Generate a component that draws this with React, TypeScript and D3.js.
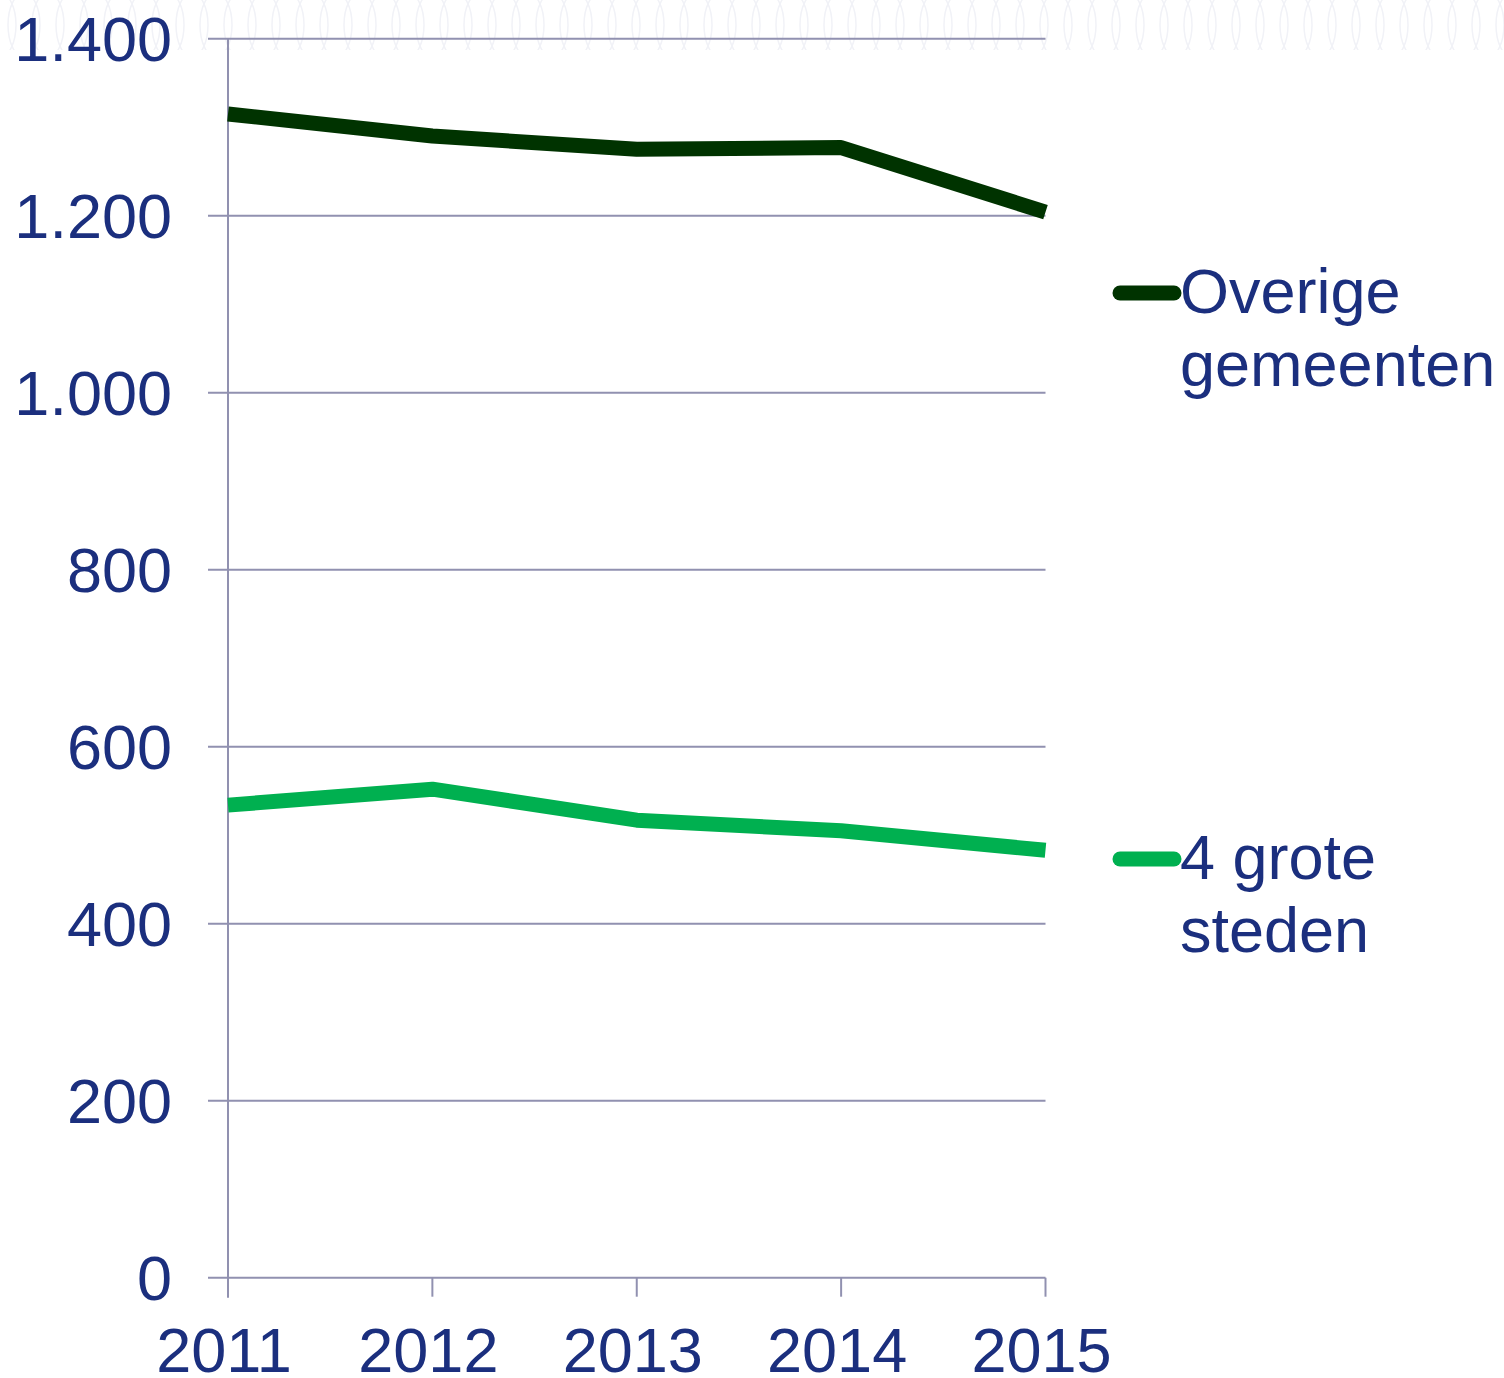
import * as d3 from "d3";

// chart values
const years = ["2011", "2012", "2013", "2014", "2015"];
const overige = [1315, 1290, 1275, 1277, 1204];
const groteSteden = [534, 552, 517, 505, 483];
const yTicks = [0, 200, 400, 600, 800, 1000, 1200, 1400];
const seriesNames = [["Overige", "gemeenten"], ["4 grote", "steden"]];

const W = 1504;
const H = 1378;
const left = 228;
const right = 1045.5;
const top = 38.7;
const bottom = 1277.7;

const textColor = "#1b2f7e";
const gridColor = "#9191b0";
const colors = ["#003300", "#00b050"];

export default function App() {
    const x = d3.scalePoint<string>().domain(years).range([left, right]);
    const y = d3.scaleLinear().domain([0, 1400]).range([bottom, top]);

    const line = d3.line<number>()
        .x((_, i) => x(years[i]) as number)
        .y(d => y(d));

    const allSeries = [overige, groteSteden];
    const fmt = (v: number) => d3.format(",")(v).replace(/,/g, ".");

    // legend rows (pixel positions)
    const legendY = [293, 859];

    return (
        <div style={{position: "absolute", left: 0, top: 0}}>
            <svg width={W} height={H} style={{display: "block", background: "#fff"}}
                 fontFamily="'Liberation Sans', Arial, sans-serif">
                <defs>
                    <pattern id="deco" width="48" height="50" patternUnits="userSpaceOnUse">
                        <ellipse cx="24" cy="25" rx="16" ry="32" fill="none" stroke="#f1f2f7" strokeWidth="1.5" />
                        <ellipse cx="0" cy="25" rx="16" ry="32" fill="none" stroke="#f1f2f7" strokeWidth="1.5" />
                        <ellipse cx="48" cy="25" rx="16" ry="32" fill="none" stroke="#f1f2f7" strokeWidth="1.5" />
                    </pattern>
                </defs>
                <rect x={0} y={0} width={W} height={50} fill="url(#deco)" />

                {/* horizontal gridlines and y labels */}
                {yTicks.map(t => (
                    <g key={t}>
                        <line x1={208} x2={right} y1={y(t)} y2={y(t)} stroke={gridColor} strokeWidth={2} />
                        <text x={172} y={y(t) + 22} textAnchor="end" fontSize={63} fill={textColor}>{fmt(t)}</text>
                    </g>
                ))}

                {/* y axis */}
                <line x1={left} x2={left} y1={top} y2={bottom + 20} stroke={gridColor} strokeWidth={2} />

                {/* x ticks and labels */}
                {years.map(yr => (
                    <g key={yr}>
                        <line x1={x(yr)} x2={x(yr)} y1={bottom} y2={bottom + 19} stroke={gridColor} strokeWidth={2} />
                        <text x={(x(yr) as number) - 4} y={1372} textAnchor="middle" fontSize={63} fill={textColor}>{yr}</text>
                    </g>
                ))}

                {/* series lines */}
                {allSeries.map((s, i) => (
                    <path key={i} d={line(s) || ""} fill="none" stroke={colors[i]} strokeWidth={15}
                          strokeLinejoin="round" strokeLinecap="butt" />
                ))}

                {/* legend */}
                {seriesNames.map((names, i) => (
                    <g key={i} transform={`translate(0, ${legendY[i]})`}>
                        <line x1={1120} x2={1174} y1={0} y2={0} stroke={colors[i]} strokeWidth={15} strokeLinecap="round" />
                        <text x={1180} y={20} fontSize={63} fill={textColor}>{names[0]}</text>
                        <text x={1180} y={93} fontSize={63} fill={textColor}>{names[1]}</text>
                    </g>
                ))}
            </svg>
        </div>
    );
}
